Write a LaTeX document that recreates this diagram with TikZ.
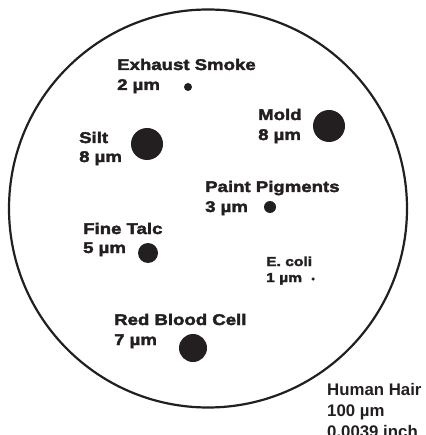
\documentclass[tikz,border=0pt]{standalone}
\usepackage{fontspec}
\setmainfont{Liberation Sans}
\newfontfamily\heavy[FakeStretch=1.2,FakeBold=2.5]{Liberation Sans Bold}
\newfontfamily\hair{Liberation Sans Bold}
\definecolor{ink}{HTML}{231F20}
\begin{document}
\begin{tikzpicture}[x=1pt,y=-1pt,
  lbl/.style={anchor=base west,inner sep=0,text=ink,font=\heavy\fontsize{15.5}{18}\selectfont},
  small/.style={anchor=base west,inner sep=0,text=ink,font=\heavy\fontsize{13}{15}\selectfont},
  hairlbl/.style={anchor=base west,inner sep=0,text=ink,font=\hair\fontsize{16.8}{20}\selectfont},
  dot/.style={circle,fill=ink,inner sep=0,draw=none}]
\useasboundingbox (0,0) rectangle (425,435);
\draw[ink,line width=2.2] (208,208.5) circle (199);
% Exhaust smoke
\node[lbl] (smoke1) at (117,70) {Exhaust Smoke};
\node[lbl] (smoke2) at (117,90) {2 µm};
\node[dot,minimum size=8] (dsmoke) at (188,87) {};
% Mold
\node[lbl] (mold1) at (258,120) {Mold};
\node[lbl] (mold2) at (258,140) {8 µm};
\node[dot,minimum size=32] (dmold) at (329,126) {};
% Silt
\node[lbl] (silt1) at (79,143) {Silt};
\node[lbl] (silt2) at (79,162) {8 µm};
\node[dot,minimum size=32] (dsilt) at (147,144) {};
% Paint
\node[lbl] (paint1) at (205,192) {Paint Pigments};
\node[lbl] (paint2) at (205,212) {3 µm};
\node[dot,minimum size=12] (dpaint) at (270,207) {};
% Fine talc
\node[lbl] (talc1) at (83,234) {Fine Talc};
\node[lbl] (talc2) at (83,253) {5 µm};
\node[dot,minimum size=20] (dtalc) at (148,253) {};
% E. coli
\node[small] (ecoli1) at (266,266) {E. coli};
\node[small] (ecoli2) at (266,282) {1 µm};
\node[dot,minimum size=3.5] (decoli) at (313,279) {};
% Red blood cell
\node[lbl] (rbc1) at (114,325) {Red Blood Cell};
\node[lbl] (rbc2) at (114,345) {7 µm};
\node[dot,minimum size=28] (drbc) at (193,348) {};
% Human hair
\node[hairlbl] (hair1) at (327,395) {Human Hair};
\node[hairlbl] (hair2) at (327,416) {100 µm};
\node[hairlbl] (hair3) at (327,437) {0.0039 inch};
\end{tikzpicture}
\end{document}
